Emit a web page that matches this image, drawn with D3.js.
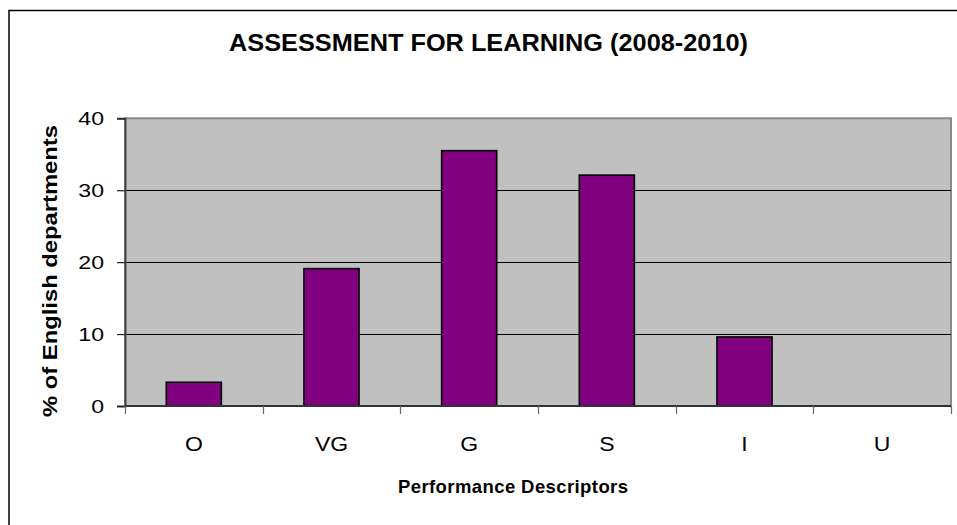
<!DOCTYPE html>
<html>
<head>
<meta charset="utf-8">
<script src="https://cdn.jsdelivr.net/npm/d3@7"></script>
<style>
  html, body { margin: 0; padding: 0; background: #fff; }
  svg { display: block; font-family: "Liberation Sans", Arial, "DejaVu Sans", sans-serif; }
</style>
</head>
<body>
<svg id="chart" width="957" height="525"></svg>
<script>
const categories = ["O", "VG", "G", "S", "I", "U"];
const values = [3.3, 19.1, 35.5, 32.1, 9.6, 0];
const yTicks = [0, 10, 20, 30, 40];
const chartTitle = "ASSESSMENT FOR LEARNING (2008-2010)";
const xTitle = "Performance Descriptors";
const yTitle = "% of English departments";

const svg = d3.select("#chart");
const W = 957, H = 525;
const plot = { left: 125, right: 951, top: 118.3, bottom: 406 };

svg.append("rect").attr("width", W).attr("height", H).attr("fill", "#fff");
// outer chart border (extends beyond image at right/bottom)
svg.append("rect")
  .attr("x", 9).attr("y", 10.5).attr("width", W + 20).attr("height", H + 20)
  .attr("fill", "none").attr("stroke", "#000").attr("stroke-width", 1.5);

const x = d3.scaleBand().domain(categories)
  .range([plot.left, plot.right]).paddingInner(0.6).paddingOuter(0.3);
const y = d3.scaleLinear().domain([0, 40]).range([plot.bottom, plot.top]);

// plot background
svg.append("rect")
  .attr("x", plot.left).attr("y", plot.top)
  .attr("width", plot.right - plot.left).attr("height", plot.bottom - plot.top)
  .attr("fill", "#C0C0C0").attr("stroke", "#8a8a8a").attr("stroke-width", 2);

// gridlines
svg.append("g").selectAll("line").data(yTicks.filter(d => d > 0 && d < 40)).join("line")
  .attr("x1", plot.left).attr("x2", plot.right)
  .attr("y1", d => Math.round(y(d)) + 0.5).attr("y2", d => Math.round(y(d)) + 0.5)
  .attr("stroke", "#000").attr("stroke-width", 1);

// bars
svg.append("g").selectAll("rect").data(categories).join("rect")
  .attr("x", d => x(d)).attr("width", x.bandwidth())
  .attr("y", (d, i) => y(values[i]))
  .attr("height", (d, i) => y(0) - y(values[i]))
  .attr("fill", "#800080").attr("stroke", "#000").attr("stroke-width", 1.6)
  .attr("display", (d, i) => values[i] > 0 ? null : "none");

// y axis
const yAxis = svg.append("g").attr("transform", `translate(${plot.left},0)`)
  .call(d3.axisLeft(y).tickValues(yTicks).tickSize(8).tickPadding(0).tickFormat(""));
yAxis.select(".domain").attr("stroke", "#444").attr("stroke-width", 2);
yAxis.selectAll(".tick line").attr("stroke", "#222").attr("stroke-width", 1.2);

svg.append("g").selectAll("text").data(yTicks).join("text")
  .attr("transform", d => `translate(104,${y(d)}) scale(1.25,1)`)
  .attr("text-anchor", "end").attr("dy", "0.36em")
  .attr("font-size", 18.5).attr("fill", "#000")
  .text(d => d);

// x axis
const bounds = categories.map(c => x(c) - x.step() * x.paddingInner() / 2).concat([plot.right]);
const xAxis = svg.append("g");
xAxis.append("line")
  .attr("x1", plot.left).attr("x2", plot.right)
  .attr("y1", plot.bottom).attr("y2", plot.bottom)
  .attr("stroke", "#333").attr("stroke-width", 2);
xAxis.selectAll("line.t").data(bounds).join("line").attr("class", "t")
  .attr("x1", d => Math.round(d) + 0.5).attr("x2", d => Math.round(d) + 0.5)
  .attr("y1", plot.bottom).attr("y2", plot.bottom + 8)
  .attr("stroke", "#666").attr("stroke-width", 1.2);

svg.append("g").selectAll("text").data(categories).join("text")
  .attr("transform", d => `translate(${x(d) + x.bandwidth() / 2},450.5) scale(1.15,1)`)
  .attr("text-anchor", "middle")
  .attr("font-size", 20).attr("fill", "#000")
  .text(d => d);

// titles
svg.append("text")
  .attr("x", 488.5).attr("y", 51).attr("text-anchor", "middle")
  .attr("font-size", 23.5).attr("font-weight", "bold")
  .attr("textLength", 519).attr("lengthAdjust", "spacingAndGlyphs")
  .text(chartTitle);

svg.append("text")
  .attr("x", 513).attr("y", 492.5).attr("text-anchor", "middle")
  .attr("font-size", 18.5).attr("font-weight", "bold")
  .attr("textLength", 230).attr("lengthAdjust", "spacing")
  .text(xTitle);

svg.append("text")
  .attr("transform", "translate(57,271) rotate(-90)")
  .attr("text-anchor", "middle")
  .attr("font-size", 21).attr("font-weight", "bold")
  .attr("textLength", 292).attr("lengthAdjust", "spacingAndGlyphs")
  .text(yTitle);
</script>
</body>
</html>
